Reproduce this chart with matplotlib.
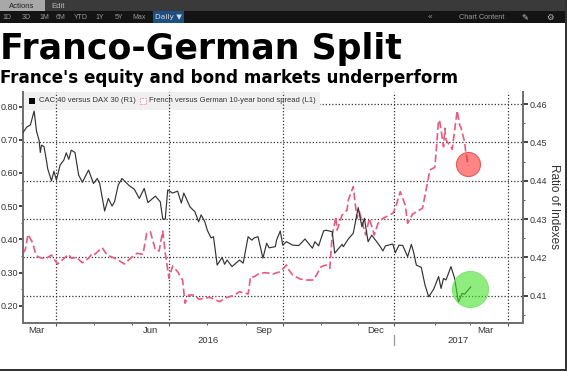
import matplotlib
matplotlib.use("Agg")
import matplotlib.pyplot as plt
import matplotlib.patches as mpatches
import pandas as pd

# days counted from the left edge of the chart
start = pd.Timestamp("2016-03-05")

cac_days = [0, 3, 6, 9, 11, 13, 14, 15, 17, 19, 20, 23, 25, 27, 30, 33, 35, 37, 39, 42, 45, 48, 53, 57, 60, 62,
            66, 69, 72, 74, 77, 80, 86, 90, 94, 98, 101, 107, 111, 113, 115, 117, 121, 125, 128, 130, 135, 139,
            142, 144, 147, 149, 152, 154, 157, 161, 163, 165, 169, 175, 178, 182, 185, 187, 190, 194, 197, 199,
            204, 205, 208, 210, 213, 218, 223, 228, 234, 236, 239, 243, 245, 250, 252, 258, 259, 263, 267, 271,
            274, 276, 279, 282, 288, 291, 293, 299, 301, 304, 307, 311, 314, 316, 318, 322, 325, 328, 332, 336,
            338, 340, 342, 346, 349, 352, 355, 357, 362]
cac_vals = [.4526, .4540, .4546, .4582, .4528, .4506, .4474, .4493, .4489, .4452, .4431, .4400, .4425, .4402,
            .4441, .4454, .4473, .4456, .4480, .4474, .4415, .4396, .4428, .4393, .4406, .4393, .4321, .4354,
            .4334, .4345, .4389, .4406, .4387, .4378, .4354, .4380, .4343, .4360, .4345, .4300, .4300, .4376,
            .4368, .4373, .4342, .4368, .4332, .4319, .4293, .4311, .4293, .4271, .4251, .4254, .4180, .4200,
            .4182, .4193, .4176, .4193, .4185, .4254, .4245, .4251, .4254, .4198, .4237, .4225, .4228, .4245,
            .4269, .4232, .4241, .4232, .4231, .4248, .4224, .4241, .4230, .4269, .4271, .4267, .4211, .4234,
            .4228, .4248, .4263, .4330, .4280, .4302, .4241, .4258, .4232, .4217, .4230, .4235, .4212, .4232,
            .4231, .4202, .4234, .4211, .4180, .4174, .4128, .4097, .4117, .4150, .4119, .4145, .4141, .4176,
            .4145, .4083, .4106, .4104, .4123]

spread_days = [0, 2, 4, 8, 10, 12, 14, 18, 23, 25, 28, 31, 37, 39, 43, 48, 53, 56, 58, 64, 68, 76, 82, 86, 92,
               97, 100, 103, 107, 110, 113, 115, 118, 121, 125, 129, 131, 134, 139, 142, 151, 159, 163, 171, 175,
               182, 184, 187, 191, 197, 202, 208, 213, 215, 218, 224, 229, 235, 241, 245, 248, 250, 253, 254, 258,
               262, 263, 267, 270, 272, 277, 280, 284, 287, 291, 299, 301, 305, 309, 311, 315, 323, 329, 333, 336,
               337, 340, 341, 342, 347, 351, 353, 354, 357, 358, 360]
spread_vals = [.3578, .3708, .4151, .3880, .3578, .3476, .3446, .3407, .3527, .3407, .3256, .3355, .3548, .3428,
               .3458, .3295, .3428, .3578, .3548, .3747, .3527, .3398, .3256, .3398, .3578, .3548, .4181, .4229,
               .3678, .3648, .4250, .3587, .2825, .3196, .3024, .2774, .2072, .2322, .2322, .2193, .2253, .2120,
               .2223, .2322, .2422, .2352, .2873, .2873, .2976, .2994, .2955, .3024, .3226, .3075, .2925, .2804,
               .2774, .2774, .3175, .3226, .3126, .4130, .4681, .4280, .4732, .4882, .5184, .5584, .4632, .4831,
               .4130, .4632, .4130, .4482, .4632, .4783, .4934, .5434, .5033, .4482, .4762, .4934, .6087, .6169,
               .7593, .7542, .6789, .7343, .6991, .6711, .7873, .7443, .7373, .6940, .6608, .6208]

left_ticks = [0.20, 0.30, 0.40, 0.50, 0.60, 0.70, 0.80]
left_minor = [0.25, 0.35, 0.45, 0.55, 0.65, 0.75]
right_ticks = [0.41, 0.42, 0.43, 0.44, 0.45, 0.46]
right_minor = [0.405, 0.415, 0.425, 0.435, 0.445, 0.455]

quarter_dates = ["2016-04-01", "2016-07-01", "2016-10-01", "2016-12-30", "2017-04-01"]
month_dates = ["2016-05-01", "2016-06-01", "2016-08-01", "2016-09-01", "2016-11-01", "2016-12-01",
               "2017-02-01", "2017-03-01"]
month_labels = ["Mar", "Jun", "Sep", "Dec", "Mar"]
month_label_days = [11, 103, 195, 285, 374]
year_labels = ["2016", "2017"]
year_label_days = [149.5, 351.5]

toolbar_left = ["1D", "3D", "1M", "6M", "YTD", "1Y", "5Y", "Max"]
toolbar_x = [7, 26, 44, 61, 81, 100, 119, 139]

W, H = 567, 371
font = "Liberation Sans"


def to_dates(days):
    return start + pd.to_timedelta(days, unit="D")


def day(d):
    return start + pd.Timedelta(days=d)


fig = plt.figure(figsize=(W / 100, H / 100), dpi=100, facecolor="white")
plt.rcParams["font.family"] = font

# toolbar and window frame
fig.patches.append(mpatches.Rectangle((0, 1 - 11 / H), 1, 11 / H, transform=fig.transFigure, fc="#3a3a3a", ec="none"))
fig.patches.append(mpatches.Rectangle((0, 1 - 23 / H), 1, 12 / H, transform=fig.transFigure, fc="#141414", ec="none"))
fig.patches.append(mpatches.Rectangle((0, 1 - 11 / H), 45 / W, 11 / H, transform=fig.transFigure, fc="#a8a8a8", ec="none"))
fig.patches.append(mpatches.Rectangle((153 / W, 1 - 23 / H), 31 / W, 12 / H, transform=fig.transFigure, fc="#1d4f82", ec="none"))
fig.patches.append(mpatches.Rectangle((0, 0), 1, 2 / H, transform=fig.transFigure, fc="#333333", ec="none"))
fig.patches.append(mpatches.Rectangle((1 - 2.5 / W, 0), 2.5 / W, 1, transform=fig.transFigure, fc="#333333", ec="none"))


def px_text(x, y, s, **kw):
    fig.text(x / W, 1 - y / H, s, **kw)


px_text(22, 6, "Actions", fontsize=5.5, color="#222222", ha="center", va="center")
px_text(58, 6, "Edit", fontsize=5.5, color="#bbbbbb", ha="center", va="center")
for lab, x in zip(toolbar_left, toolbar_x):
    px_text(x, 17.5, lab, fontsize=5, color="#999999", ha="center", va="center")
px_text(168, 17.5, "Daily ▼", fontsize=5.3, color="#dddddd", ha="center", va="center", family="DejaVu Sans")
px_text(430, 17.5, "«", fontsize=6, color="#999999", ha="center", va="center")
px_text(482, 17.5, "Chart Content", fontsize=5.3, color="#999999", ha="center", va="center")
px_text(525, 17.5, "✎", fontsize=6, color="#cccccc", ha="center", va="center", family="DejaVu Sans")
px_text(550, 17.5, "⚙", fontsize=6, color="#bbbbbb", ha="center", va="center", family="DejaVu Sans")

# headline
px_text(0, 59, "Franco-German Split", fontsize=25, fontweight="bold", family="DejaVu Sans", color="black", va="baseline")
px_text(0, 83, "France's equity and bond markets underperform", fontsize=12.1, fontweight="bold",
        family="DejaVu Sans", color="black", va="baseline")

left, right, top, bottom = 23, 522.7, 92, 322.7
ax = fig.add_axes([left / W, 1 - bottom / H, (right - left) / W, (bottom - top) / H])
ax.patch.set_alpha(0)
ax2 = ax.twinx()
ax2.patch.set_alpha(0)

ax.set_xlim(day(0), day(404))
ax.set_ylim(0.1488, 0.8437)
ax2.set_ylim(0.40295, 0.46318)

# legend strip sits over the horizontal grid but under the vertical one
for v in right_ticks:
    ax.axhline(0.1488 + (v - 0.40295) / (0.46318 - 0.40295) * (0.8437 - 0.1488), color="#333333", lw=0.9,
               ls=(0, (1, 1.6)), zorder=0.5)
ax.add_patch(mpatches.Rectangle((0, 1 - 18 / (bottom - top)), (320 - left) / (right - left), 18 / (bottom - top),
                                transform=ax.transAxes, fc="#f0f0f0", ec="none", zorder=0.6))
for q in quarter_dates:
    ax.axvline(pd.Timestamp(q), color="#333333", lw=0.9, ls=(0, (1, 1.6)), zorder=0.7)

ax.plot(to_dates(spread_days), spread_vals, color="#e85a80", lw=1.2, ls=(0, (4.5, 2)), zorder=2)
ax2.plot(to_dates(cac_days), cac_vals, color="#333333", lw=0.85, zorder=3)

ax2.scatter([day(360)], [0.4444], s=299, fc=(1, 0.2, 0.2, 0.6), ec="#e05a5a", lw=0.8, zorder=4)
ax2.scatter([day(361)], [0.4117], s=672, fc=(0.27, 0.88, 0.16, 0.6), ec="#86e27a", lw=0.8, zorder=4)

for a in (ax, ax2):
    a.spines["top"].set_visible(False)
    for s in a.spines.values():
        s.set_color("#707070")
        s.set_linewidth(1.3)

ax.set_yticks(left_ticks)
ax.set_yticklabels(["%.2f" % v for v in left_ticks])
ax.set_yticks(left_minor, minor=True)
ax.tick_params(axis="y", which="major", length=3, width=1.1, color="#111111", pad=0.5, labelsize=6.5, labelcolor="#333333")
ax.tick_params(axis="y", which="minor", length=1.5, width=0.7, color="#555555")

ax2.set_yticks(right_ticks)
ax2.set_yticklabels(["%.2f" % v for v in right_ticks])
ax2.set_yticks(right_minor, minor=True)
ax2.tick_params(axis="y", which="major", length=3.5, width=1.1, color="#111111", pad=1.5, labelsize=6.5, labelcolor="#333333")
ax2.tick_params(axis="y", which="minor", length=1.5, width=0.7, color="#555555")

ax.set_xticks([pd.Timestamp(q) for q in quarter_dates])
ax.set_xticklabels([])
ax.set_xticks([pd.Timestamp(m) for m in month_dates], minor=True)
ax.tick_params(axis="x", which="major", length=2.5, width=0.8, color="#555555")
ax.tick_params(axis="x", which="minor", length=1.5, width=0.7, color="#555555")
ax2.set_xlim(ax.get_xlim())

tr = ax.get_xaxis_transform()
for lab, d in zip(month_labels, month_label_days):
    ax.text(day(d), -7.5 / (bottom - top), lab, transform=tr, ha="center", va="center", fontsize=6.8, color="#333333")
for lab, d in zip(year_labels, year_label_days):
    ax.text(day(d), -18 / (bottom - top), lab, transform=tr, ha="center", va="center", fontsize=6.8, color="#333333")
ax.plot([pd.Timestamp("2016-12-30")] * 2, [-12.5 / (bottom - top), -22.5 / (bottom - top)], transform=tr,
        color="#999999", lw=0.9, clip_on=False)

# legend row
fig.patches.append(mpatches.Rectangle((29 / W, 1 - 104 / H), 6 / W, 6 / H, transform=fig.transFigure, fc="black", ec="none", zorder=5))
fig.patches.append(mpatches.Rectangle((140 / W, 1 - 104 / H), 6 / W, 6 / H, transform=fig.transFigure, fc="white",
                                      ec="#f0a0b5", lw=0.7, ls=(0, (2, 1)), zorder=5))
px_text(39, 101, "CAC 40 versus DAX 30 (R1)", fontsize=5.5, color="#333333", va="center", zorder=6)
px_text(149, 101, "French versus German 10-year bond spread (L1)", fontsize=5.5, color="#333333", va="center", zorder=6)

px_text(554, 207, "Ratio of Indexes", fontsize=8.5, color="#333333", rotation=-90, ha="center", va="center")

fig.savefig("out.png", dpi=100, facecolor="white")
